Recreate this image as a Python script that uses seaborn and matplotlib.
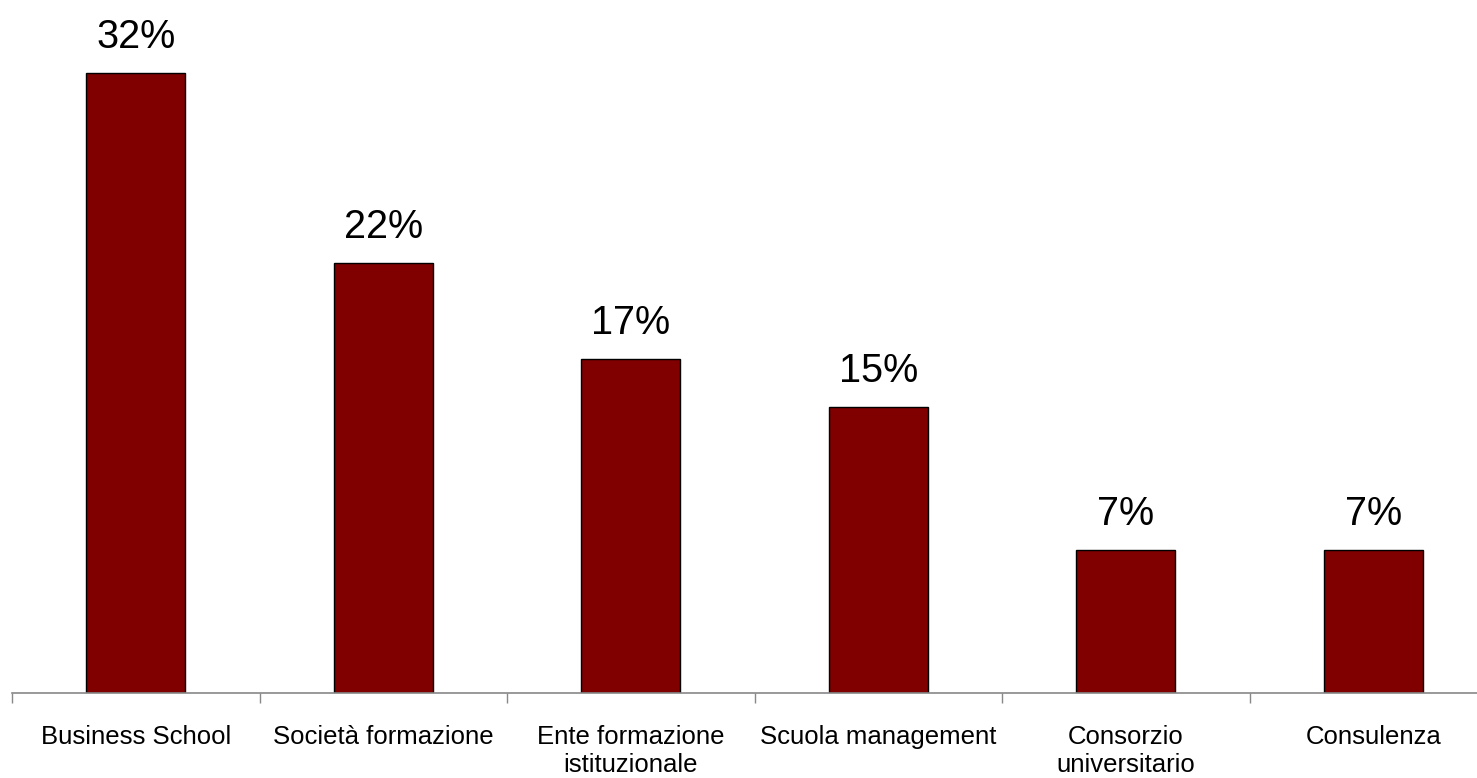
import matplotlib.pyplot as plt
import pandas as pd
import seaborn as sns

# shares of 41 respondents, in percent
categories = ['Business School', 'Società formazione', 'Ente formazione\nistituzionale',
              'Scuola management', 'Consorzio\nuniversitario', 'Consulenza']
values = [31.7, 22.0, 17.1, 14.6, 7.3, 7.3]
labels = ['32%', '22%', '17%', '15%', '7%', '7%']

df = pd.DataFrame({'cat': categories, 'val': values})

sns.set_style('white')
plt.rcParams['font.family'] = ['Liberation Sans', 'DejaVu Sans']
plt.rcParams['text.color'] = 'black'
plt.rcParams['xtick.color'] = 'black'

W, H = 1477, 778
fig = plt.figure(figsize=(W / 100, H / 100), dpi=100)
# axes run a bit past the right edge, like the original
ax = fig.add_axes([12 / W, 85 / H, (1497 - 12) / W, 693 / H])

sns.barplot(data=df, x='cat', y='val', color='#800000', saturation=1,
            edgecolor='black', linewidth=1, width=0.4, ax=ax)

for i, (v, lab) in enumerate(zip(values, labels)):
    ax.annotate(lab, (i, v), xytext=(0, 18), textcoords='offset points',
                ha='center', va='baseline', fontsize=28.5, color='black')

ax.set_xlim(-0.5, 5.5)
ax.set_ylim(0, 35.43)
ax.set_xlabel('')
ax.set_ylabel('')
ax.set_yticks([])

for s in ['top', 'right', 'left']:
    ax.spines[s].set_visible(False)
ax.spines['bottom'].set_color('#888888')
ax.spines['bottom'].set_linewidth(1.2)

ax.set_xticks([i - 0.5 for i in range(7)], minor=True)
ax.tick_params(axis='x', which='minor', length=7, width=1, color='#888888', direction='out', bottom=True)
ax.tick_params(axis='x', which='major', length=0, pad=23, labelsize=18.5, labelcolor='black')
for t in ax.get_xticklabels():
    t.set_linespacing(1.22)
    t.set_verticalalignment('top')

fig.savefig('out.png', dpi=100)
